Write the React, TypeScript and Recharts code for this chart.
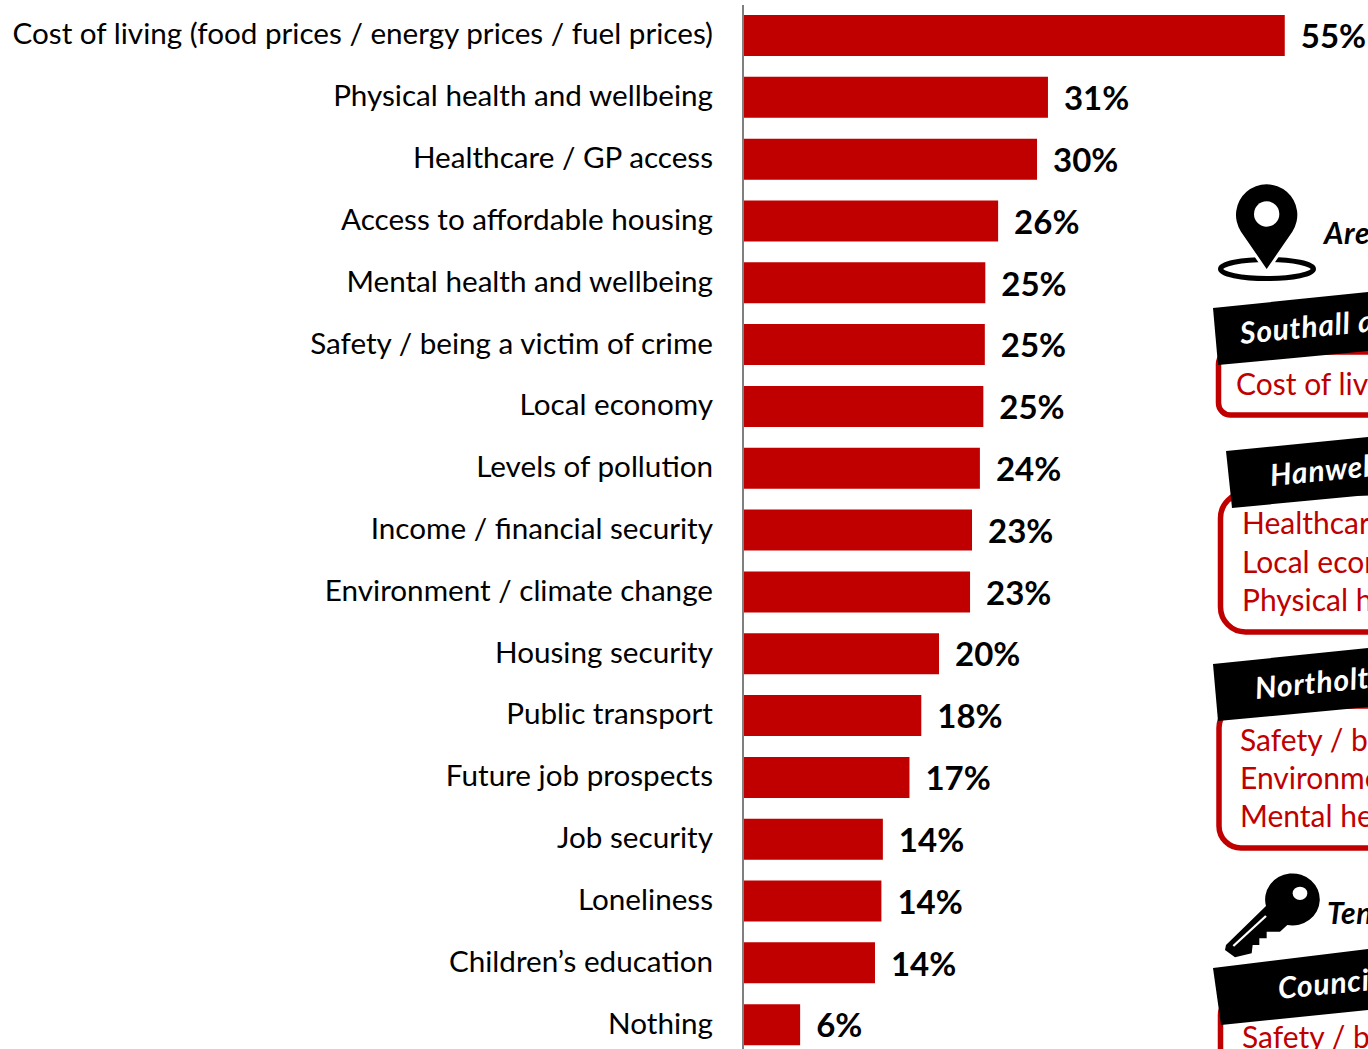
import React from "react";
import { BarChart, Bar, XAxis, YAxis, LabelList } from "recharts";

const categories = [
  "Cost of living (food prices / energy prices / fuel prices)",
  "Physical health and wellbeing",
  "Healthcare / GP access",
  "Access to affordable housing",
  "Mental health and wellbeing",
  "Safety / being a victim of crime",
  "Local economy",
  "Levels of pollution",
  "Income / financial security",
  "Environment / climate change",
  "Housing security",
  "Public transport",
  "Future job prospects",
  "Job security",
  "Loneliness",
  "Children’s education",
  "Nothing",
];
const values = [55, 30.96, 29.85, 25.9, 24.6, 24.55, 24.4, 24.05, 23.25, 23.05, 19.9, 18.1, 16.9, 14.2, 14.05, 13.4, 5.8];
const valueLabels = ["55%", "31%", "30%", "26%", "25%", "25%", "25%", "24%", "23%", "23%", "20%", "18%", "17%", "14%", "14%", "14%", "6%"];

const rows = categories.map((name, i) => ({ name, value: values[i], label: valueLabels[i] }));

const FONT = "Lato, 'Open Sans', sans-serif";
const RED = "#c00000";

const panels = [
  { title: "Southall and", titleX: 1241, titleY: 344, banner: "1213,308 1368,292 1368,351 1218,365", box: [1218.5, 352, 415, 12], lines: ["Cost of living"], lineX: 1236, lineY: [395] },
  { title: "Hanwell", titleX: 1271, titleY: 486, banner: "1226,451 1368,437 1368,495 1232,508", box: [1220.5, 493, 632, 25], lines: ["Healthcare / GP access", "Local economy", "Physical health and wellbeing"], lineX: 1242, lineY: [534, 573, 611] },
  { title: "Northolt", titleX: 1256, titleY: 699, banner: "1213,664 1368,648 1368,707 1218,721", box: [1219, 706, 848, 22], lines: ["Safety / being a victim of crime", "Environment / climate change", "Mental health and wellbeing"], lineX: 1240, lineY: [751, 789, 827] },
  { title: "Council", titleX: 1279, titleY: 999, banner: "1213,968 1368,949 1368,1010 1221,1025", box: [1220.5, 995, 1100, 20], lines: ["Safety / being a victim of crime"], lineX: 1242, lineY: [1048] },
];

function Overlay() {
  return (
    <svg width={1368} height={1049} style={{ position: "absolute", left: 0, top: 0 }}>
      {/* location pin */}
      <ellipse cx={1267} cy={269} rx={46.5} ry={9.5} fill="none" stroke="#000" strokeWidth={5} />
      <g transform="translate(1200,170) scale(0.3333)">
        <path
          d="M200 297 L123 185 A92 92 0 1 1 277 185 Z"
          fill="#000"
          stroke="#fff"
          strokeWidth={18}
          paintOrder="stroke"
        />
        <circle cx={200} cy={132} r={38} fill="#fff" />
      </g>
      {/* key */}
      <g transform="translate(1200,860) scale(0.3333)">
        <path
          d="M198 138 L78 255 L75 270 L105 292 L155 280 L158 255 L178 255 L178 235 L200 235 L200 215 L240 215 L262 195 A82 78 0 1 0 198 138 Z"
          fill="#000"
        />
        <ellipse cx={300} cy={100} rx={22} ry={20} fill="#fff" />
        <line x1={100} y1={258} x2={198} y2={168} stroke="#fff" strokeWidth={7} />
      </g>
      <text x={1324} y={244} fontFamily={FONT} fontSize={30} fontWeight={700} fontStyle="italic" letterSpacing={0.6} fill="#000">Area</text>
      <text x={1327} y={924} fontFamily={FONT} fontSize={30} fontWeight={700} fontStyle="italic" letterSpacing={0.6} fill="#000">Tenure</text>
      {panels.map((p) => {
        const [x, top, bottom, r] = p.box;
        return (
          <g key={p.title}>
            <rect x={x} y={top} width={400} height={bottom - top} rx={r} ry={r} fill="#fff" stroke={RED} strokeWidth={5.5} />
            <polygon points={p.banner} fill="#000" />
            <text
              x={p.titleX}
              y={p.titleY}
              transform={`rotate(-5.5 ${p.titleX} ${p.titleY})`}
              fontFamily={FONT}
              fontSize={30}
              fontWeight={700}
              fontStyle="italic"
              letterSpacing={0.8}
              fill="#fff"
            >
              {p.title}
            </text>
            {p.lines.map((t, i) => (
              <text key={t} x={p.lineX} y={p.lineY[i]} fontFamily={FONT} fontSize={30} fill={RED}>
                {t}
              </text>
            ))}
          </g>
        );
      })}
    </svg>
  );
}

export default function App() {
  return (
    <div style={{ position: "absolute", left: 0, top: 0, width: 1368, height: 1049, overflow: "hidden", background: "#fff" }}>
      <BarChart
        width={1368}
        height={1056}
        data={rows}
        layout="vertical"
        margin={{ top: 5, right: 0, bottom: 0, left: 0 }}
        barCategoryGap={20.8}
      >
        <XAxis type="number" hide domain={[0, 63.45]} />
        <YAxis
          type="category"
          dataKey="name"
          width={743}
          interval={0}
          axisLine={{ stroke: "#7f7f7f", strokeWidth: 2 }}
          tickLine={false}
          tickMargin={24}
          tick={{ fontFamily: FONT, fontSize: 29.65, fill: "#000", dy: -2 }}
        />
        <Bar dataKey="value" fill={RED} isAnimationActive={false} barSize={41}>
          <LabelList
            dataKey="label"
            position="right"
            offset={16}
            dy={1}
            style={{ fontFamily: FONT, fontSize: 33, fontWeight: 700, fill: "#000" }}
          />
        </Bar>
      </BarChart>
      <Overlay />
    </div>
  );
}
